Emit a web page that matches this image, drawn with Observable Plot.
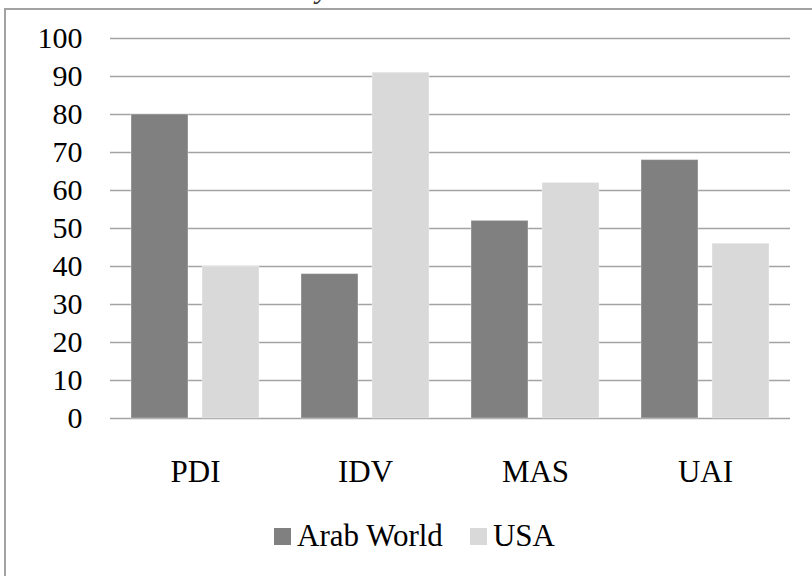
<!DOCTYPE html>
<html>
<head>
<meta charset="utf-8">
<script src="https://cdn.jsdelivr.net/npm/d3@7"></script>
<script src="https://cdn.jsdelivr.net/npm/@observablehq/plot@0.6"></script>
<style>
  html, body { margin: 0; padding: 0; background: #fff; }
  body { width: 812px; height: 576px; overflow: hidden; position: relative; }
  #heading { position: absolute; left: 0; top: 0; width: 812px; height: 8px; overflow: hidden; }
  #heading span { position: absolute; left: 316px; top: -26px; font-size: 29px; line-height: 29px; font-style: italic; color: #333; }
  #frame { position: absolute; left: 4px; top: 8px; width: 820px; height: 580px; border-left: 2px solid #a3a3a3; border-top: 2px solid #a3a3a3; box-sizing: border-box; }
  #chart { position: absolute; left: 0; top: 0; }
  #legend { position: absolute; left: 274px; top: 521px; display: flex; align-items: center; font-size: 31px; line-height: 30px; color: #000; white-space: nowrap; }
  #legend .item { display: flex; align-items: center; margin-right: 27px; }
  #legend .sw { width: 17px; height: 17px; margin-right: 6px; }
</style>
</head>
<body style="font-family: 'Liberation Serif', serif;">
<div id="heading"><span style="font-family: 'Liberation Serif', serif;">y</span></div>
<div id="frame"></div>
<div id="chart"></div>
<div id="legend" style="font-family: 'Liberation Serif', serif;"></div>
<script>
// Hofstede dimension scores
const categories = ["PDI", "IDV", "MAS", "UAI"];
const seriesNames = ["Arab World", "USA"];
const arabWorld = [80, 38, 52, 68];
const usa = [40, 91, 62, 46];
const yTicks = [0, 10, 20, 30, 40, 50, 60, 70, 80, 90, 100];
const seriesColors = ["#808080", "#d9d9d9"];

const serifFont = "'Liberation Serif', serif";

const rows = categories.flatMap((c, i) => [
  {category: c, series: seriesNames[0], value: arabWorld[i]},
  {category: c, series: seriesNames[1], value: usa[i]}
]);

const chart = Plot.plot({
  width: 812,
  height: 500,
  marginLeft: 110,
  marginRight: 22,
  marginTop: 38,
  marginBottom: 82,
  style: {fontFamily: serifFont, fontSize: "30px", color: "#000", background: "transparent"},
  fx: {domain: categories, padding: 0, label: null},
  x: {domain: seriesNames, paddingInner: 0.2, paddingOuter: 0.293, axis: null},
  y: {domain: [0, 100], axis: null},
  color: {domain: seriesNames, range: seriesColors},
  marks: [
    Plot.gridY(yTicks, {stroke: "#a3a3a3", strokeOpacity: 1, strokeWidth: 1.4}),
    Plot.barY(rows, {fx: "category", x: "series", y: "value", fill: "series", stroke: "#ffffff", strokeOpacity: 0.35, strokeWidth: 1, inset: 0}),
    Plot.axisY(yTicks, {tickSize: 0, tickPadding: 28, fontSize: 30, label: null}),
    Plot.axisFx({anchor: "bottom", tickSize: 0, tickPadding: 41, fontSize: 31, label: null})
  ]
});
// serif face on every axis label
d3.select(chart).selectAll("g[aria-label$='tick label']").attr("font-family", serifFont).style("font-family", serifFont);
document.getElementById("chart").appendChild(chart);

// Legend below the plot
const legend = d3.select("#legend");
seriesNames.forEach((name, i) => {
  const item = legend.append("div").attr("class", "item");
  item.append("div").attr("class", "sw").style("background", seriesColors[i]);
  item.append("span").text(name);
});
</script>
</body>
</html>
